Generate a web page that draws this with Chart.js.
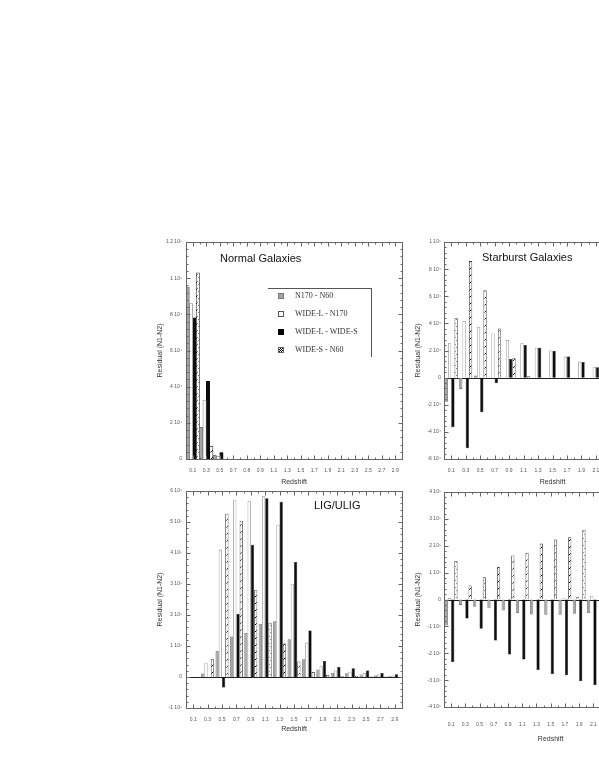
<!DOCTYPE html>
<html>
<head>
<meta charset="utf-8">
<script src="https://cdn.jsdelivr.net/npm/chart.js@4.4.0/dist/chart.umd.min.js"></script>
<style>
html, body { margin: 0; padding: 0; background: #fff; width: 599px; height: 776px; overflow: hidden; }
body { position: relative; }
canvas { position: absolute; }
.ttl { position: absolute; font: 11px "Liberation Sans", Arial, sans-serif; line-height: 11px; color: #111; white-space: nowrap; }
#legend { position: absolute; left: 268px; top: 288px; width: 103px; height: 68px; border-top: 1px solid #555; border-right: 1px solid #555; font: 8px "Liberation Serif", "Times New Roman", serif; color: #333; }
.item { position: absolute; left: 10px; height: 8px; line-height: 8px; white-space: nowrap; }
.sw { display: inline-block; width: 6px; height: 6px; margin-right: 11px; vertical-align: -1px; box-sizing: border-box; }
</style>
</head>
<body>
<canvas id="normal"></canvas>
<canvas id="starburst"></canvas>
<canvas id="lig"></canvas>
<canvas id="fourth"></canvas>
<div class="ttl" style="left:220px;top:253px">Normal Galaxies</div>
<div class="ttl" style="left:482px;top:252px">Starburst Galaxies</div>
<div class="ttl" style="left:314px;top:500px">LIG/ULIG</div>
<div id="legend"></div>
<script>
'use strict';

const seriesNames = ['N170 - N60', 'WIDE-L - N170', 'WIDE-L - WIDE-S', 'WIDE-S - N60'];

// the normal galaxies panel has an extra 0.8 bin on its axis
const normalLabels = ['0.1', '0.3', '0.5', '0.7', '0.8', '0.9', '1.1', '1.3', '1.5', '1.7', '1.9', '2.1', '2.3', '2.5', '2.7', '2.9'];
const redshiftLabels = ['0.1', '0.3', '0.5', '0.7', '0.9', '1.1', '1.3', '1.5', '1.7', '1.9', '2.1', '2.3', '2.5', '2.7', '2.9'];

// Normal galaxies
const normalN170N60 = [95200, 17500, 2000, 0, 0, 0, 0, 0, 0, 0, 0, 0, 0, 0, 0, 0];
const normalWideLN170 = [86000, 32600, 1500, 0, 0, 0, 0, 0, 0, 0, 0, 0, 0, 0, 0, 0];
const normalWideLWideS = [78000, 43000, 3500, 0, 0, 0, 0, 0, 0, 0, 0, 0, 0, 0, 0, 0];
const normalWideSN60 = [103000, 7000, 0, 0, 0, 0, 0, 0, 0, 0, 0, 0, 0, 0, 0, 0];

// Starburst galaxies (bins past 2.1 are cut off in the picture)
const starN170N60 = [-17700, -8300, 1500, 0, 0, 0, 0, 0, 0, 0, 0, null, null, null, null];
const starWideLN170 = [25300, 41700, 37500, 32600, 27700, 25300, 22000, 20000, 15500, 11800, 7600, null, null, null, null];
const starWideLWideS = [-36600, -52000, -25500, -4200, 13700, 24000, 22000, 19800, 15500, 11600, 7600, null, null, null, null];
const starWideSN60 = [43700, 85900, 64500, 36300, 14200, 1000, 0, 0, 0, 0, null, null, null, null, null];

// LIG/ULIG
const ligN170N60 = [0, 11000, 84000, 131000, 142000, 172000, 180000, 122000, 57000, 24000, 14000, 12000, 8000, 5000, 3000];
const ligWideLN170 = [0, 46000, 411000, 572000, 567000, 583000, 491000, 301000, 111000, 35000, 21000, 17000, 13000, 8000, 5000];
const ligWideLWideS = [0, 0, -34000, 204000, 427000, 577000, 565000, 371000, 150000, 52000, 32000, 28000, 21000, 13000, 9000];
const ligWideSN60 = [0, 57000, 527000, 504000, 280000, 175000, 108000, 50000, 16000, 7000, 4000, 3000, 2000, 2000, 1000];

// fourth panel (untitled, cut off on the right)
const p4N170N60 = [-97000, -20000, -27000, -33000, -41000, -50000, -56000, -57000, -57000, -53000, -50000, null, null, null, null];
const p4WideLN170 = [6000, 0, 0, 0, 0, 0, 0, 0, 5000, 9000, 14000, null, null, null, null];
const p4WideLWideS = [-233000, -71000, -109000, -153000, -205000, -223000, -262000, -277000, -282000, -304000, -319000, null, null, null, null];
const p4WideSN60 = [143000, 52000, 83000, 122000, 164000, 174000, 208000, 223000, 232000, 260000, null, null, null, null, null];

const sup = {'-': '⁻', '0': '⁰', '1': '¹', '2': '²', '3': '³', '4': '⁴', '5': '⁵', '6': '⁶', '7': '⁷', '8': '⁸', '9': '⁹'};
function sci(v) {
    if (Math.abs(v) < 1e-9) return '0';
    const e = Math.floor(Math.log10(Math.abs(v)) + 1e-9);
    const m = Math.round(v / Math.pow(10, e) * 10) / 10;
    return m + ' 10' + String(e).split('').map((c) => sup[c]).join('');
}

function hatch(ctx) {
    const c = document.createElement('canvas');
    c.width = 4;
    c.height = 7;
    const g = c.getContext('2d');
    g.fillStyle = '#fff';
    g.fillRect(0, 0, 4, 7);
    g.strokeStyle = '#000';
    g.lineWidth = 1;
    g.beginPath();
    g.moveTo(0.5, 5.5);
    g.lineTo(3.5, 2.5);
    g.stroke();
    return ctx.createPattern(c, 'repeat');
}

const framePlugin = {
    id: 'frame',
    beforeDatasetsDraw(chart) {
        const {ctx, chartArea: a, scales: {y}} = chart;
        if (y.min < 0) {
            const py = Math.round(y.getPixelForValue(0)) + 0.5;
            ctx.save();
            ctx.strokeStyle = '#222';
            ctx.lineWidth = 1;
            ctx.beginPath();
            ctx.moveTo(a.left, py);
            ctx.lineTo(a.right, py);
            ctx.stroke();
            ctx.restore();
        }
    },
    afterDatasetsDraw(chart) {
        const {ctx, chartArea: a, scales: {x, y}} = chart;
        const L = Math.round(a.left) + 0.5, R = Math.round(a.right) + 0.5;
        const T = Math.round(a.top) + 0.5, B = Math.round(a.bottom) + 0.5;
        ctx.save();
        ctx.strokeStyle = '#666';
        ctx.lineWidth = 1;
        ctx.strokeRect(L, T, R - L, B - T);
        ctx.beginPath();
        const step = y.options.ticks.stepSize / 5;
        const n = Math.round((y.max - y.min) / step);
        for (let k = 0; k <= n; k++) {
            const py = Math.round(y.getPixelForValue(y.min + k * step)) + 0.5;
            const len = k % 5 === 0 ? 4 : 2;
            ctx.moveTo(L, py); ctx.lineTo(L + len, py);
            ctx.moveTo(R, py); ctx.lineTo(R - len, py);
        }
        const half = (x.getPixelForValue(1) - x.getPixelForValue(0)) / 2;
        for (let i = 0; i < chart.data.labels.length; i++) {
            const c = x.getPixelForValue(i);
            for (const [px, len] of [[c, 4], [c + half, 2]]) {
                const p = Math.round(px) + 0.5;
                ctx.moveTo(p, B); ctx.lineTo(p, B - len);
                ctx.moveTo(p, T); ctx.lineTo(p, T + len);
            }
        }
        ctx.stroke();
        ctx.restore();
    }
};

function makeChart(id, box, labels, series, yMin, yMax, yStep, catPct) {
    const canvas = document.getElementById(id);
    canvas.width = box.w;
    canvas.height = box.h;
    canvas.style.left = box.x + 'px';
    canvas.style.top = box.y + 'px';
    const ctx = canvas.getContext('2d');
    const fills = ['#a4a4a4', '#ffffff', '#0d0d0d', hatch(ctx)];
    const borders = ['#6e6e6e', '#8a8a8a', '#000000', '#333333'];
    const widths = [0.8, 0.8, 0.5, 0.8];
    return new Chart(ctx, {
        type: 'bar',
        data: {
            labels: labels,
            datasets: series.map((d, i) => ({
                label: seriesNames[i],
                data: d,
                backgroundColor: fills[i],
                borderColor: borders[i],
                borderWidth: widths[i],
                categoryPercentage: catPct,
                barPercentage: 1.0
            }))
        },
        options: {
            responsive: false,
            animation: false,
            devicePixelRatio: 1,
            layout: {padding: {top: box.padTop, right: 8, left: 0, bottom: 0}},
            plugins: {legend: {display: false}, tooltip: {enabled: false}},
            scales: {
                x: {
                    grid: {display: false, drawTicks: false},
                    border: {display: false},
                    ticks: {font: {family: 'Liberation Sans', size: 5}, color: '#555', padding: box.tickPad, maxRotation: 0, autoSkip: false},
                    title: {display: true, text: 'Redshift', font: {family: 'Liberation Sans', size: 7}, color: '#333', padding: {top: 0, bottom: box.titlePad}},
                    afterFit: (s) => { s.height = box.xHeight; }
                },
                y: {
                    min: yMin,
                    max: yMax,
                    grid: {display: false, drawTicks: false},
                    border: {display: false},
                    ticks: {stepSize: yStep, callback: (v) => sci(v), font: {family: 'Liberation Sans', size: 5}, color: '#555', padding: box.yPad},
                    title: {display: true, text: 'Residual (N1-N2)', font: {family: 'Liberation Sans', size: 7}, color: '#333', padding: {top: 1.8, bottom: 0}},
                    afterFit: (s) => { s.width = 32; }
                }
            }
        },
        plugins: [framePlugin]
    });
}

makeChart('normal', {x: 154, y: 230, w: 256, h: 265, padTop: 12, xHeight: 36, tickPad: 9, titlePad: 8.8, yPad: 4},
    normalLabels, [normalN170N60, normalWideLN170, normalWideLWideS, normalWideSN60], 0, 120000, 20000, 1.0);

makeChart('starburst', {x: 412, y: 230, w: 257, h: 265, padTop: 12, xHeight: 36, tickPad: 9, titlePad: 8.8, yPad: 3},
    redshiftLabels, [starN170N60, starWideLN170, starWideLWideS, starWideSN60], -60000, 100000, 20000, 0.9);

makeChart('lig', {x: 154, y: 480, w: 256, h: 260, padTop: 11, xHeight: 32, tickPad: 9, titlePad: 6.8, yPad: 4},
    redshiftLabels, [ligN170N60, ligWideLN170, ligWideLWideS, ligWideSN60], -100000, 600000, 100000, 0.9);

makeChart('fourth', {x: 412, y: 480, w: 257, h: 270, padTop: 12, xHeight: 43, tickPad: 15, titlePad: 6.8, yPad: 3},
    redshiftLabels, [p4N170N60, p4WideLN170, p4WideLWideS, p4WideSN60], -400000, 400000, 100000, 0.9);

// legend of the first panel
const swatchStyles = [
    'background:#a4a4a4;border:1px solid #777',
    'background:#fff;border:1px solid #555',
    'background:#000',
    'background:repeating-conic-gradient(#000 0 25%, #fff 0 50%) 0 0/2px 2px;border:1px solid #666'
];
const rowTops = [3, 20.7, 38.7, 57.3];
const legend = document.getElementById('legend');
seriesNames.forEach((name, i) => {
    const row = document.createElement('div');
    row.className = 'item';
    row.style.top = rowTops[i] + 'px';
    row.innerHTML = '<span class="sw" style="' + swatchStyles[i] + '"></span>' + name;
    legend.appendChild(row);
});
</script>
</body>
</html>
